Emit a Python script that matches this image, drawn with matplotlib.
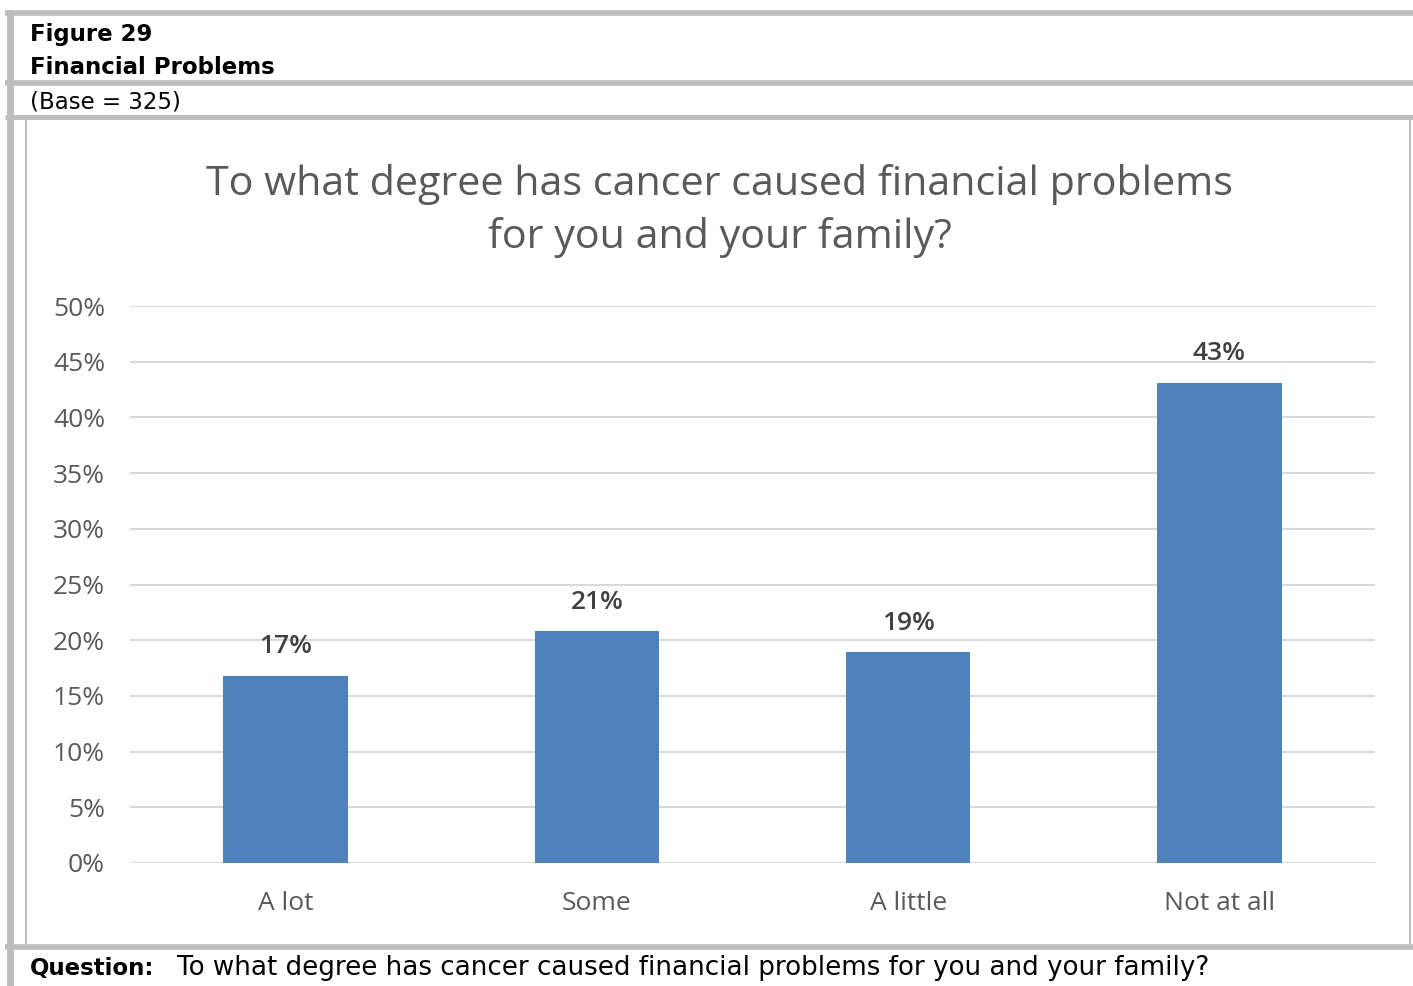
import matplotlib
matplotlib.use("Agg")
import matplotlib.pyplot as plt
from matplotlib.lines import Line2D

categories = ["A lot", "Some", "A little", "Not at all"]
values = [16.8, 20.8, 18.9, 43.1]
labels = ["17%", "21%", "19%", "43%"]
yticks = [0, 5, 10, 15, 20, 25, 30, 35, 40, 45, 50]

W, H = 1413, 986
fig = plt.figure(figsize=(W / 100, H / 100), dpi=100)
fig.patch.set_facecolor("white")

# overlay in pixel coordinates for frame and header texts
ov = fig.add_axes([0, 0, 1, 1])
ov.set_xlim(0, W)
ov.set_ylim(H, 0)
ov.axis("off")

gray = "#BDBDBD"
def hline(y, x0, x1, lw):
    ov.add_line(Line2D([x0, x1], [y, y], color=gray, lw=lw, solid_capstyle="butt"))
def vline(x, y0, y1, lw):
    ov.add_line(Line2D([x, x], [y0, y1], color=gray, lw=lw, solid_capstyle="butt"))

hline(12.5, 5, W, 4)
vline(10, 10, H, 5)
hline(83, 5, W, 4)
hline(116.5, 5, W, 3.5)
vline(26, 117, 945, 1.5)
vline(1410, 117, 945, 1.5)
hline(946.5, 5, W, 4)

hdr_font = ["DejaVu Sans"]
ov.text(30, 35, "Figure 29", fontsize=16.5, fontweight="bold", family=hdr_font,
        color="black", va="center", ha="left")
ov.text(30, 68, "Financial Problems", fontsize=16.5, fontweight="bold", family=hdr_font,
        color="black", va="center", ha="left")
ov.text(30, 102, "(Base = 325)", fontsize=16.5, family=hdr_font,
        color="black", va="center", ha="left")
ov.text(30, 968, "Question:", fontsize=16.5, fontweight="bold", family=hdr_font,
        color="black", va="center", ha="left")
ov.text(177, 968, "To what degree has cancer caused financial problems for you and your family?",
        fontsize=18.8, family=hdr_font, color="black", va="center", ha="left")

ov.text(720, 211, "To what degree has cancer caused financial problems\nfor you and your family?",
        fontsize=29.7, family=["Open Sans", "DejaVu Sans"], color="#595959",
        ha="center", va="center", linespacing=1.4)

# chart axes
left, right = 130 / W, 1375 / W
bottom, top = 1 - 863 / H, 1 - 306 / H
ax = fig.add_axes([left, bottom, right - left, top - bottom])
ax.set_facecolor("none")
x = list(range(len(categories)))
ax.bar(x, values, width=0.4, color="#4F81BD", zorder=3)
ax.set_xlim(-0.5, 3.5)
ax.set_ylim(0, 50)
ax.set_yticks(yticks)
ax.set_yticklabels([f"{t}%" for t in yticks])
ax.set_xticks(x)
ax.set_xticklabels(categories)
ax.grid(axis="y", color="#D9D9D9", lw=1.5, zorder=0)
for s in ax.spines.values():
    s.set_visible(False)
ax.tick_params(axis="both", length=0, colors="#595959")
ax.tick_params(axis="y", pad=18, labelsize=19)
ax.tick_params(axis="x", pad=20, labelsize=19)
for lab in ax.get_xticklabels() + ax.get_yticklabels():
    lab.set_family(["Open Sans", "DejaVu Sans"])
for xi, v, l in zip(x, values, labels):
    ax.annotate(l, (xi, v), xytext=(0, 12), textcoords="offset points",
                ha="center", va="bottom", fontsize=19, fontweight="semibold",
                color="#404040", family=["Open Sans", "DejaVu Sans"])

fig.savefig("out.png", dpi=100)
